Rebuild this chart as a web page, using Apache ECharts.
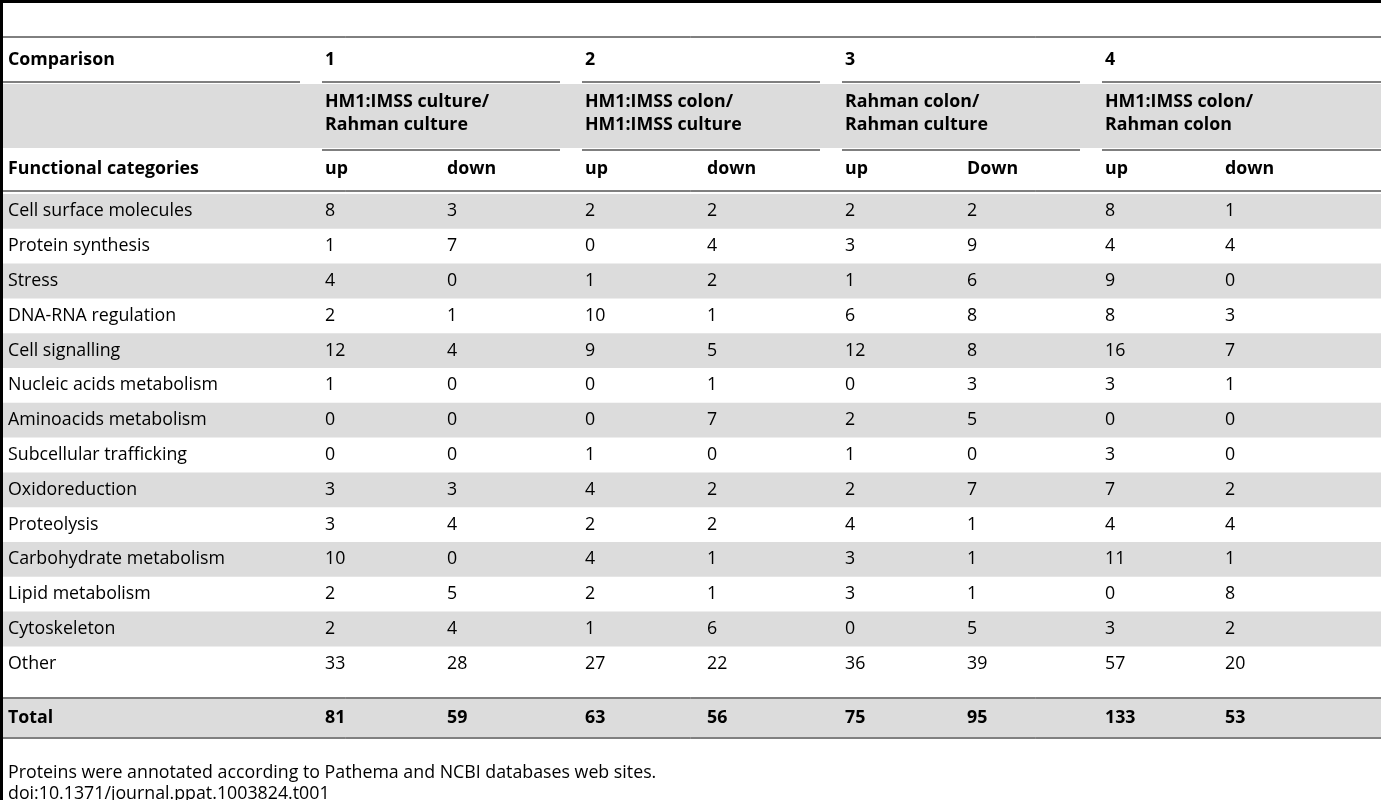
<!DOCTYPE html>
<html>
<head>
<meta charset="utf-8">
<script src="https://cdn.jsdelivr.net/npm/echarts@6/dist/echarts.min.js"></script>
<style>
    html, body {margin: 0; padding: 0; background: #fff;}
    #app {width: 1381px; height: 800px;}
</style>
</head>
<body>
<div id="app"></div>
<script>
// 表格数据
let comparisons = ["1", "2", "3", "4"];
let groupTitles = [
    ["HM1:IMSS culture/", "Rahman culture"],
    ["HM1:IMSS colon/", "HM1:IMSS culture"],
    ["Rahman colon/", "Rahman culture"],
    ["HM1:IMSS colon/", "Rahman colon"]
];
let subHeaders = ["up", "down", "up", "down", "up", "Down", "up", "down"];
let categories = [
    "Cell surface molecules", "Protein synthesis", "Stress", "DNA-RNA regulation",
    "Cell signalling", "Nucleic acids metabolism", "Aminoacids metabolism",
    "Subcellular trafficking", "Oxidoreduction", "Proteolysis",
    "Carbohydrate metabolism", "Lipid metabolism", "Cytoskeleton", "Other"
];
let values = [
    [8, 3, 2, 2, 2, 2, 8, 1],
    [1, 7, 0, 4, 3, 9, 4, 4],
    [4, 0, 1, 2, 1, 6, 9, 0],
    [2, 1, 10, 1, 6, 8, 8, 3],
    [12, 4, 9, 5, 12, 8, 16, 7],
    [1, 0, 0, 1, 0, 3, 3, 1],
    [0, 0, 0, 7, 2, 5, 0, 0],
    [0, 0, 1, 0, 1, 0, 3, 0],
    [3, 3, 4, 2, 2, 7, 7, 2],
    [3, 4, 2, 2, 4, 1, 4, 4],
    [10, 0, 4, 1, 3, 1, 11, 1],
    [2, 5, 2, 1, 3, 1, 0, 8],
    [2, 4, 1, 6, 0, 5, 3, 2],
    [33, 28, 27, 22, 36, 39, 57, 20]
];
let totals = [81, 59, 63, 56, 75, 95, 133, 53];
let footnotes = [
    "Proteins were annotated according to Pathema and NCBI databases web sites.",
    "doi:10.1371/journal.ppat.1003824.t001"
];

let drawTable = () => {
    let myChart = echarts.init(document.querySelector("#app"));
    let W = 1381;
    let gray = "#dcdcdc";
    let font = "17.8px 'Open Sans', sans-serif";
    let bold = "bold 17.8px 'Open Sans', sans-serif";
    let colX = [325, 447, 585, 707, 845, 967, 1105, 1225];
    let groupX = [[322, 560], [582, 820], [842, 1080], [1102, W]];
    let rowTop = 194, rowH = 34.8;
    let els = [];

    let text = (x, y, s, f) => els.push({
        type: "text", x: x, y: y,
        style: {text: String(s), font: f || font, fill: "#000", verticalAlign: "middle"}
    });
    let rect = (x, y, w, h) => els.push({
        type: "rect", shape: {x: x, y: y, width: w, height: h}, style: {fill: gray}
    });
    let line = (x1, x2, y, lw) => els.push({
        type: "line", shape: {x1: x1, y1: y, x2: x2, y2: y},
        style: {stroke: "#000", lineWidth: lw || 1}
    });

    // 灰色背景
    rect(0, 84, W, 64);
    categories.forEach((c, i) => {
        if (i % 2 === 0) rect(0, rowTop + rowH * i, W, rowH);
    });
    rect(0, 699, W, 38);

    // 线条
    line(0, W, 1.5, 3);
    line(0, W, 37, 1);
    line(0, 300, 82, 1);
    groupX.forEach(g => {
        line(g[0], g[1], 82, 1);
        line(g[0], g[1], 150, 1);
    });
    line(0, W, 191, 1);
    line(0, W, 698, 1);
    line(0, W, 738, 1);
    els.push({type: "rect", shape: {x: 0, y: 0, width: 3, height: 800}, style: {fill: "#000"}});

    // 表头
    text(8, 60, "Comparison", bold);
    comparisons.forEach((c, i) => text(colX[i * 2], 60, c, bold));
    groupTitles.forEach((g, i) => {
        text(colX[i * 2], 102, g[0], bold);
        text(colX[i * 2], 125, g[1], bold);
    });
    text(8, 169, "Functional categories", bold);
    subHeaders.forEach((s, i) => text(colX[i], 169, s, bold));

    // 数据行
    categories.forEach((c, i) => {
        let y = rowTop + rowH * i + rowH / 2;
        text(8, y, c);
        values[i].forEach((v, j) => text(colX[j], y, v));
    });
    text(8, 718, "Total", bold);
    totals.forEach((v, j) => text(colX[j], 718, v, bold));

    // 脚注
    text(8, 773, footnotes[0]);
    text(8, 794, footnotes[1]);

    myChart.setOption({animation: false, graphic: {elements: els}});
};
drawTable();
</script>
</body>
</html>
